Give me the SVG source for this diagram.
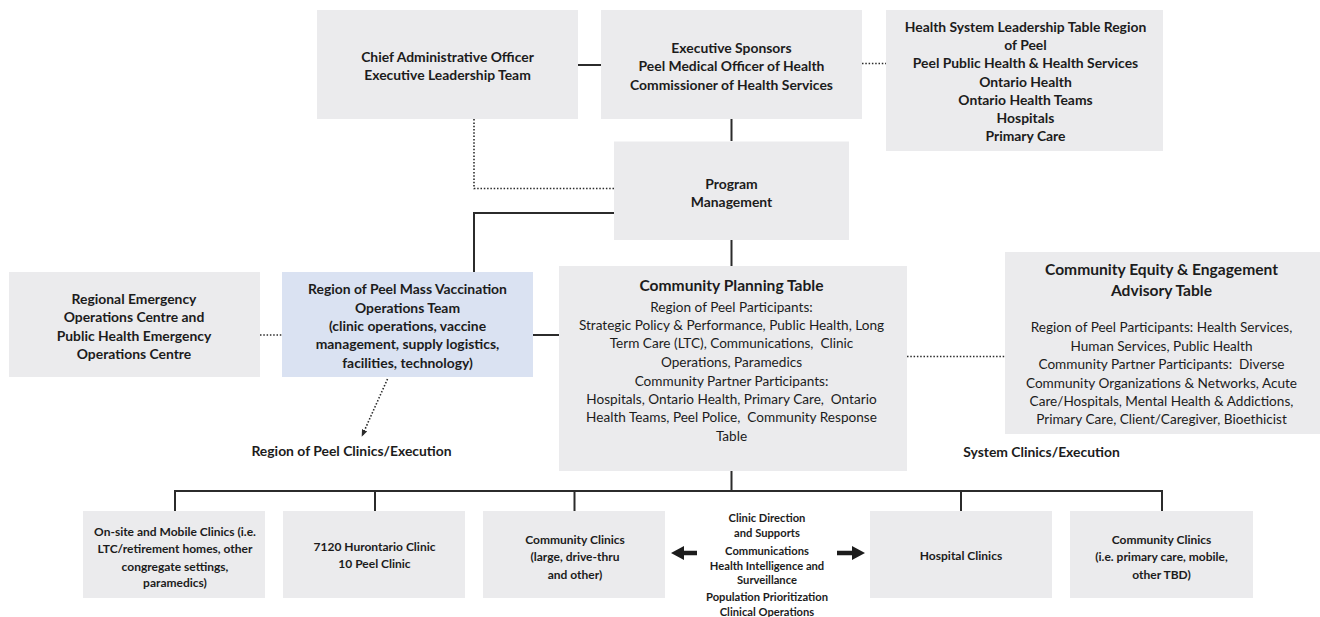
<svg xmlns="http://www.w3.org/2000/svg" width="1320" height="617" viewBox="0 0 1320 617">
<defs>
<style>
.box{fill:#EBEBED}
.blue{fill:#DAE2F2}
text{font-family:Lato,"Liberation Sans",sans-serif;fill:#1c1c1c;text-anchor:middle;dominant-baseline:central}
.b{font-weight:bold;font-size:13.9px}
.r{font-size:13.6px}
.t{font-weight:bold;font-size:15.6px}
.s{font-weight:bold;font-size:12px}
.c{font-weight:bold;font-size:11.2px}
.solid{stroke:#2b2b2b;stroke-width:2;fill:none}
.dot{stroke:#2b2b2b;stroke-width:1.6;fill:none;stroke-dasharray:1.5 1.8}
</style>
<marker id="ah" viewBox="0 0 10 10" refX="9" refY="5" markerWidth="7" markerHeight="7" orient="auto" markerUnits="userSpaceOnUse">
<path d="M0,1 L10,5 L0,9 z" fill="#2b2b2b"/>
</marker>
</defs>
<rect width="1320" height="617" fill="#fff"/>

<g id="connectors">
<line class="solid" x1="578" y1="65" x2="601" y2="65"/>
<line class="dot" x1="862" y1="63.5" x2="886" y2="63.5"/>
<line class="solid" x1="731.5" y1="119" x2="731.5" y2="141"/>
<polyline class="dot" points="614,188.5 474,188.5 474,119"/>
<polyline class="solid" points="614,213 474,213 474,272"/>
<line class="solid" x1="731.5" y1="240" x2="731.5" y2="266"/>
<line class="dot" x1="260" y1="335" x2="282" y2="335"/>
<line class="solid" x1="533" y1="335" x2="559" y2="335"/>
<line class="dot" x1="907" y1="356.5" x2="1005" y2="356.5"/>
<line class="dot" x1="387.5" y1="379" x2="362" y2="436" marker-end="url(#ah)"/>
<line class="solid" x1="731.5" y1="471" x2="731.5" y2="491"/>
<polyline class="solid" points="175,511 175,491 1162,491 1162,511"/>
<line class="solid" x1="375" y1="491" x2="375" y2="511"/>
<line class="solid" x1="574.5" y1="491" x2="574.5" y2="511"/>
<line class="solid" x1="961" y1="491" x2="961" y2="511"/>
<polygon points="671,553 684,546 684,550.8 697,550.8 697,555.2 684,555.2 684,560" fill="#1c1c1c"/>
<polygon points="865,553 852,546 852,550.8 837,550.8 837,555.2 852,555.2 852,560" fill="#1c1c1c"/>
</g>

<g id="cao">
<rect class="box" x="317" y="10" width="261" height="109"/>
<text class="b" x="447.5" y="56.7">Chief Administrative Officer</text>
<text class="b" x="447.5" y="74">Executive Leadership Team</text>
</g>

<g id="exec-sponsors">
<rect class="box" x="601" y="10" width="261" height="109"/>
<text class="b" x="731.5" y="47.7">Executive Sponsors</text>
<text class="b" x="731.5" y="65">Peel Medical Officer of Health</text>
<text class="b" x="731.5" y="84.3">Commissioner of Health Services</text>
</g>

<g id="hslt">
<rect class="box" x="886" y="10" width="277" height="141"/>
<text class="b" x="1025.5" y="26.7">Health System Leadership Table Region</text>
<text class="b" x="1025.5" y="44.3">of Peel</text>
<text class="b" x="1025.5" y="62.7">Peel Public Health &amp; Health Services</text>
<text class="b" x="1025.5" y="81">Ontario Health</text>
<text class="b" x="1025.5" y="99.3">Ontario Health Teams</text>
<text class="b" x="1025.5" y="117.3">Hospitals</text>
<text class="b" x="1025.5" y="135.7">Primary Care</text>
</g>

<g id="program-management">
<rect class="box" x="614" y="141.5" width="235" height="98.5"/>
<text class="b" x="731.5" y="183">Program</text>
<text class="b" x="731.5" y="201.5">Management</text>
</g>

<g id="reoc">
<rect class="box" x="9" y="272" width="251" height="105"/>
<text class="b" x="134" y="298.3">Regional Emergency</text>
<text class="b" x="134" y="316.7">Operations Centre and</text>
<text class="b" x="134" y="335">Public Health Emergency</text>
<text class="b" x="134" y="353.3">Operations Centre</text>
</g>

<g id="mass-vaccination">
<rect class="blue" x="282" y="272" width="251" height="105"/>
<text class="b" x="407.5" y="288.3">Region of Peel Mass Vaccination</text>
<text class="b" x="407.5" y="307">Operations Team</text>
<text class="b" x="407.5" y="325">(clinic operations, vaccine</text>
<text class="b" x="407.5" y="343.3">management, supply logistics,</text>
<text class="b" x="407.5" y="362">facilities, technology)</text>
</g>

<g id="peel-clinics-label">
<text class="b" x="351.5" y="450">Region of Peel Clinics/Execution</text>
</g>

<g id="cpt">
<rect class="box" x="559" y="266" width="348" height="205"/>
<text class="t" x="731.5" y="285">Community Planning Table</text>
<text class="r" x="731.5" y="306.7">Region of Peel Participants:</text>
<text class="r" x="731.5" y="325">Strategic Policy &amp; Performance, Public Health, Long</text>
<text class="r" x="731.5" y="343.3" xml:space="preserve">Term Care (LTC), Communications,  Clinic</text>
<text class="r" x="731.5" y="361.7">Operations, Paramedics</text>
<text class="r" x="731.5" y="380.7">Community Partner Participants:</text>
<text class="r" x="731.5" y="399" xml:space="preserve">Hospitals, Ontario Health, Primary Care,  Ontario</text>
<text class="r" x="731.5" y="417" xml:space="preserve">Health Teams, Peel Police,  Community Response</text>
<text class="r" x="731.5" y="435.7">Table</text>
</g>

<g id="ceeat">
<rect class="box" x="1005" y="252" width="315" height="182"/>
<text class="t" x="1161.5" y="269.3">Community Equity &amp; Engagement</text>
<text class="t" x="1161.5" y="290">Advisory Table</text>
<text class="r" x="1161.5" y="327.3">Region of Peel Participants: Health Services,</text>
<text class="r" x="1161.5" y="345.7">Human Services, Public Health</text>
<text class="r" x="1161.5" y="364" xml:space="preserve">Community Partner Participants:  Diverse</text>
<text class="r" x="1161.5" y="382.7">Community Organizations &amp; Networks, Acute</text>
<text class="r" x="1161.5" y="400.7">Care/Hospitals, Mental Health &amp; Addictions,</text>
<text class="r" x="1161.5" y="419">Primary Care, Client/Caregiver, Bioethicist</text>
</g>

<g id="system-clinics-label">
<text class="b" x="1041.5" y="451.7">System Clinics/Execution</text>
</g>

<g id="onsite-mobile">
<rect class="box" x="83" y="511" width="182" height="87"/>
<text class="s" x="175" y="531.7">On-site and Mobile Clinics (i.e.</text>
<text class="s" x="175" y="548.7">LTC/retirement homes, other</text>
<text class="s" x="175" y="566">congregate settings,</text>
<text class="s" x="175" y="582.7">paramedics)</text>
</g>

<g id="hurontario">
<rect class="box" x="283" y="511" width="182" height="87"/>
<text class="s" x="374.5" y="546.7">7120 Hurontario Clinic</text>
<text class="s" x="374.5" y="563">10 Peel Clinic</text>
</g>

<g id="community-clinics-1">
<rect class="box" x="483" y="511" width="182" height="87"/>
<text class="s" x="575" y="539.3">Community Clinics</text>
<text class="s" x="575" y="556.3">(large, drive-thru</text>
<text class="s" x="575" y="574">and other)</text>
</g>

<g id="clinic-direction">
<text class="c" x="767" y="517.3">Clinic Direction</text>
<text class="c" x="767" y="532.7">and Supports</text>
<text class="c" x="767" y="550">Communications</text>
<text class="c" x="767" y="565.3">Health Intelligence and</text>
<text class="c" x="767" y="579">Surveillance</text>
<text class="c" x="767" y="596.7">Population Prioritization</text>
<text class="c" x="767" y="611.7">Clinical Operations</text>
</g>

<g id="hospital-clinics">
<rect class="box" x="870" y="511" width="182" height="87"/>
<text class="s" x="961" y="555">Hospital Clinics</text>
</g>

<g id="community-clinics-2">
<rect class="box" x="1070" y="511" width="183" height="87"/>
<text class="s" x="1161.5" y="539.3">Community Clinics</text>
<text class="s" x="1161.5" y="556.3">(i.e. primary care, mobile,</text>
<text class="s" x="1161.5" y="574">other TBD)</text>
</g>
</svg>
